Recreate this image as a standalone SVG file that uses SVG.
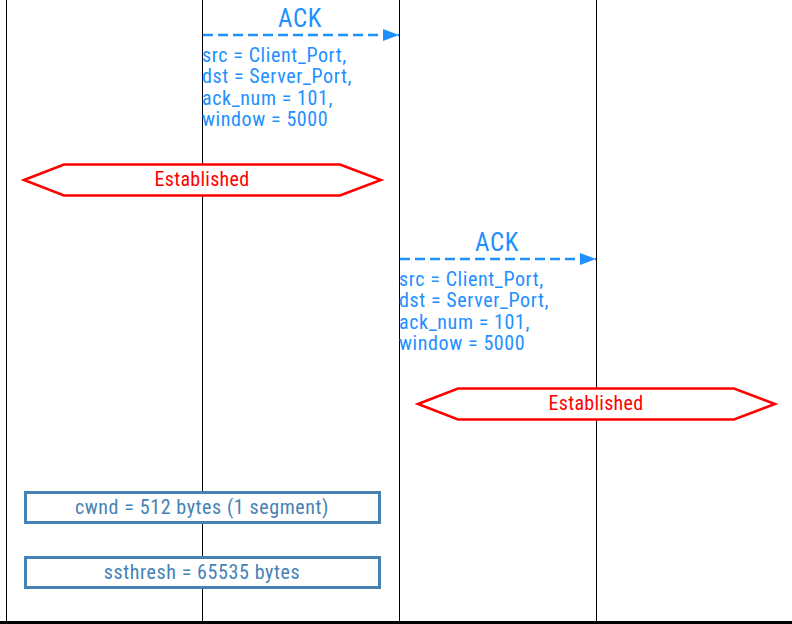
<svg xmlns="http://www.w3.org/2000/svg" width="792" height="624" viewBox="0 0 792 624">
  <style>
    text { font-family: "Liberation Sans Narrow", "Roboto Condensed", "Liberation Sans", sans-serif; letter-spacing: 0.6px; }
    .life { stroke: #000; stroke-width: 1; }
    .msg { stroke: #1e90ff; stroke-width: 2.5; stroke-dasharray: 10 5; fill: none; }
    .msgname { fill: #1e90ff; font-size: 25px; text-anchor: middle; }
    .field { fill: #1e90ff; font-size: 20px; }
    .state polygon { fill: #fff; stroke: #ff0000; stroke-width: 2.5; }
    .state text { fill: #ff0000; font-size: 20px; text-anchor: middle; letter-spacing: 0.3px; }
    .note rect { fill: #fff; stroke: #4682b4; stroke-width: 3; }
    .note text { fill: #4682b4; font-size: 20px; text-anchor: middle; }
  </style>
  <defs>
    <marker id="arrow" markerWidth="16" markerHeight="12" refX="16" refY="6" orient="auto" markerUnits="userSpaceOnUse">
      <path d="M0,0 L16,6 L0,12 Z" fill="#1e90ff"/>
    </marker>
  </defs>
  <rect width="792" height="624" fill="#fff"/>

  <!-- lifelines and baseline -->
  <g id="lifelines">
    <line class="life" x1="6.5" y1="0" x2="6.5" y2="622"/>
    <line class="life" x1="202.5" y1="0" x2="202.5" y2="622"/>
    <line class="life" x1="399.5" y1="0" x2="399.5" y2="622"/>
    <line class="life" x1="596.5" y1="0" x2="596.5" y2="622"/>
    <line x1="0" y1="622.5" x2="792" y2="622.5" stroke="#000" stroke-width="3"/>
  </g>

  <!-- messages -->
  <g id="connectors">
    <line class="msg" x1="203" y1="35" x2="399" y2="35" marker-end="url(#arrow)"/>
    <line class="msg" x1="400" y1="259" x2="596" y2="259" marker-end="url(#arrow)"/>
  </g>

  <g id="ack1">
    <text class="msgname" x="300" y="27">ACK</text>
    <text class="field" x="202" y="62">src = Client_Port,</text>
    <text class="field" x="202" y="83">dst = Server_Port,</text>
    <text class="field" x="202" y="105">ack_num = 101,</text>
    <text class="field" x="202" y="126">window = 5000</text>
  </g>

  <g id="ack2">
    <text class="msgname" x="497" y="251">ACK</text>
    <text class="field" x="399" y="286">src = Client_Port,</text>
    <text class="field" x="399" y="307">dst = Server_Port,</text>
    <text class="field" x="399" y="329">ack_num = 101,</text>
    <text class="field" x="399" y="350">window = 5000</text>
  </g>

  <g id="state1" class="state">
    <polygon points="24,180 64,164.5 340,164.5 381,180 340,195.5 64,195.5"/>
    <text x="202" y="186">Established</text>
  </g>

  <g id="state2" class="state">
    <polygon points="418,404 458,388.5 734,388.5 775,404 734,419.5 458,419.5"/>
    <text x="596" y="410">Established</text>
  </g>

  <g id="cwnd" class="note">
    <rect x="25.5" y="492.5" width="354" height="30"/>
    <text x="202" y="514">cwnd = 512 bytes (1 segment)</text>
  </g>

  <g id="ssthresh" class="note">
    <rect x="25.5" y="557.5" width="354" height="30"/>
    <text x="202" y="579">ssthresh = 65535 bytes</text>
  </g>
</svg>
